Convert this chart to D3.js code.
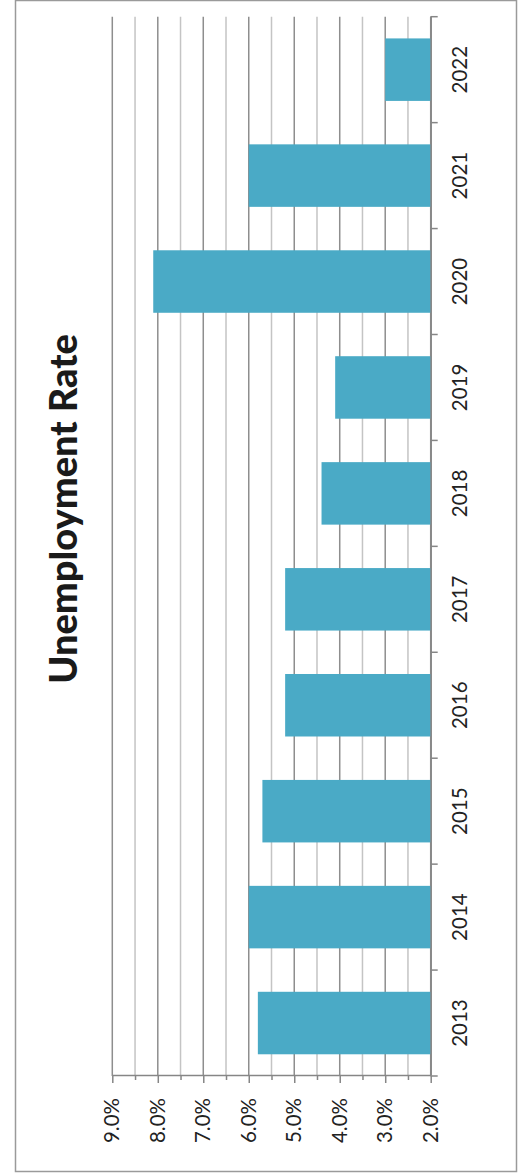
<!DOCTYPE html>
<html>
<head>
<meta charset="utf-8">
<script src="https://cdn.jsdelivr.net/npm/d3@7"></script>
<style>
  body { margin: 0; background: #fff; }
  svg { display: block; font-family: Lato, "Open Sans", sans-serif; }
  .domain { stroke: #868686; stroke-width: 1.5; }
</style>
</head>
<body>
<svg id="chart" width="522" height="1176"></svg>
<script>
// data
const years = ["2013", "2014", "2015", "2016", "2017", "2018", "2019", "2020", "2021", "2022"];
const rates = [5.8, 6.0, 5.7, 5.2, 5.2, 4.4, 4.1, 8.1, 6.0, 3.0];
const majorTicks = [2, 3, 4, 5, 6, 7, 8, 9];
const minorTicks = [2.5, 3.5, 4.5, 5.5, 6.5, 7.5, 8.5];
const title = "Unemployment Rate";

const data = years.map((y, i) => ({year: y, rate: rates[i]}));

const svg = d3.select("#chart");

// chart frame
svg.append("rect")
  .attr("x", 15.5).attr("y", 0.5)
  .attr("width", 501).attr("height", 1171)
  .attr("fill", "none").attr("stroke", "#9a9a9a").attr("stroke-width", 1.5);

// plot area is drawn as a normal column chart then turned -90 degrees
const plot = {left: 112.3, bottom: 1076, top: 16.7, right: 430.7};
const W = plot.bottom - plot.top;   // category direction
const H = plot.right - plot.left;   // value direction

const g = svg.append("g")
  .attr("transform", `translate(${plot.left},${plot.bottom}) rotate(-90)`);

const xScale = d3.scaleBand().domain(years).range([0, W]).paddingInner(0.41).paddingOuter(0.205);
const yScale = d3.scaleLinear().domain([2, 9]).range([H, 0]);

// gridlines
g.selectAll(".minor-grid")
  .data(minorTicks)
  .join("line")
  .attr("class", "minor-grid")
  .attr("x1", 0).attr("x2", W)
  .attr("y1", d => yScale(d)).attr("y2", d => yScale(d))
  .attr("stroke", "#c4c4c4").attr("stroke-width", 1.5);

g.selectAll(".major-grid")
  .data(majorTicks)
  .join("line")
  .attr("class", "major-grid")
  .attr("x1", 0).attr("x2", W)
  .attr("y1", d => yScale(d)).attr("y2", d => yScale(d))
  .attr("stroke", "#8e8e8e").attr("stroke-width", 1.5);

// bars
g.selectAll(".bar")
  .data(data)
  .join("rect")
  .attr("class", "bar")
  .attr("x", d => xScale(d.year))
  .attr("y", d => yScale(d.rate))
  .attr("width", xScale.bandwidth())
  .attr("height", d => H - yScale(d.rate))
  .attr("fill", "#4aaac6");

// value axis (screen bottom)
g.append("g")
  .attr("class", "minor-axis")
  .call(d3.axisLeft(yScale).tickValues(minorTicks).tickSize(4).tickFormat(""))
  .call(a => a.select(".domain").remove())
  .selectAll("line").attr("stroke", "#868686").attr("stroke-width", 1.5);

const yAxis = g.append("g")
  .attr("class", "y-axis")
  .call(d3.axisLeft(yScale).tickValues(majorTicks).tickSize(7).tickSizeOuter(0).tickPadding(15)
    .tickFormat(d => d.toFixed(1) + "%"));
yAxis.selectAll("line").attr("stroke", "#868686").attr("stroke-width", 1.5);
yAxis.selectAll("text").attr("font-size", 20.5).attr("fill", "#222").attr("font-family", "Lato, sans-serif");

// category axis (screen right)
const xAxis = g.append("g")
  .attr("class", "x-axis")
  .attr("transform", `translate(0,${H})`)
  .call(d3.axisBottom(xScale).tickSize(0).tickSizeOuter(0).tickPadding(22));
xAxis.selectAll("text").attr("font-size", 20.5).attr("fill", "#222").attr("font-family", "Lato, sans-serif");

// ticks between categories
const bounds = years.map(y => xScale(y) - xScale.step() * xScale.paddingInner() / 2).concat([W]);
xAxis.selectAll(".cat-tick")
  .data(bounds)
  .join("line")
  .attr("class", "cat-tick")
  .attr("x1", d => d).attr("x2", d => d)
  .attr("y1", 0).attr("y2", 7)
  .attr("stroke", "#868686").attr("stroke-width", 1.5);

// title
svg.append("text")
  .attr("transform", "translate(77,509) rotate(-90)")
  .attr("text-anchor", "middle")
  .attr("font-size", 38)
  .attr("font-weight", "900")
  .attr("fill", "#1a1a1a")
  .text(title);
</script>
</body>
</html>
